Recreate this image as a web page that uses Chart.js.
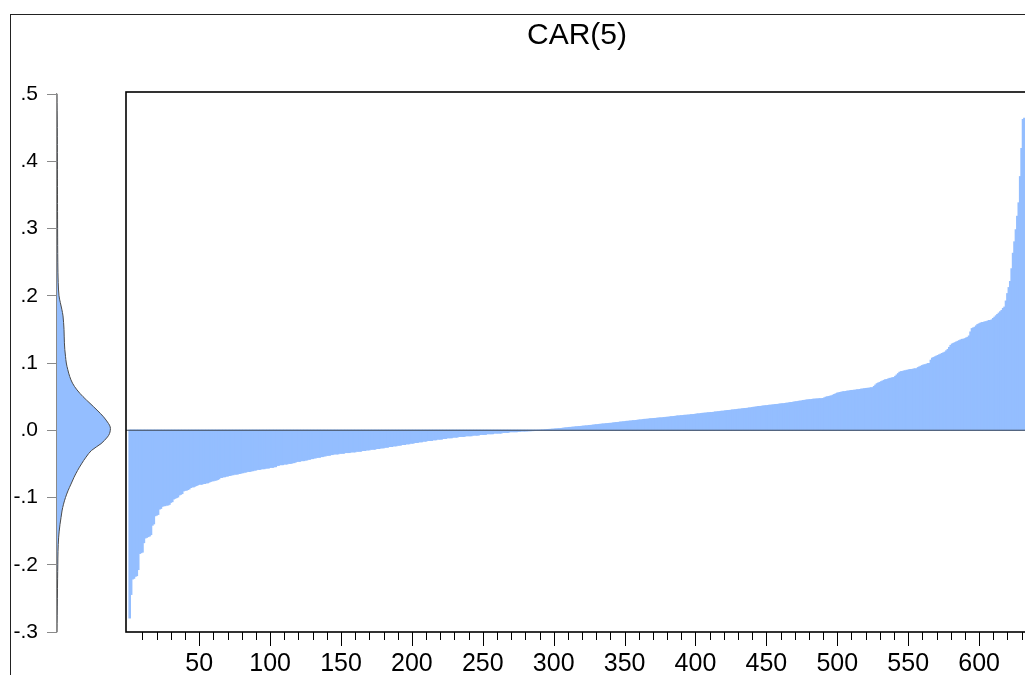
<!DOCTYPE html>
<html>
<head>
<meta charset="utf-8">
<title>CAR(5)</title>
<script src="https://cdn.jsdelivr.net/npm/chart.js@4.4.1/dist/chart.umd.min.js"></script>
<style>
    html, body { margin: 0; padding: 0; background: #fff; overflow: hidden; width: 1025px; height: 675px; }
    #frame { position: absolute; left: 10px; top: 14px; width: 1300px; height: 900px; border: 1px solid #222; box-sizing: border-box; }
    #densityChart { position: absolute; left: 0; top: 0; }
    #quantileChart { position: absolute; left: 100px; top: 0; }
</style>
</head>
<body>
<div id="frame"></div>
<canvas id="densityChart" width="130" height="675"></canvas>
<canvas id="quantileChart" width="953" height="675"></canvas>
<script>
const carValues = [
    -0.279, -0.244, -0.221, -0.220, -0.217, -0.216, -0.207, -0.183, -0.182, -0.181,
    -0.167, -0.160, -0.159, -0.158, -0.157, -0.155, -0.141, -0.139, -0.127, -0.126,
    -0.125, -0.117, -0.116, -0.113, -0.112, -0.112, -0.111, -0.111, -0.110, -0.107,
    -0.106, -0.102, -0.101, -0.100, -0.099, -0.096, -0.095, -0.094, -0.090, -0.089,
    -0.089, -0.088, -0.087, -0.085, -0.084, -0.084, -0.083, -0.082, -0.081, -0.080,
    -0.080, -0.080, -0.079, -0.079, -0.078, -0.078, -0.077, -0.076, -0.075, -0.075,
    -0.074, -0.074, -0.073, -0.072, -0.070, -0.070, -0.069, -0.069, -0.068, -0.068,
    -0.067, -0.067, -0.066, -0.066, -0.065, -0.065, -0.065, -0.064, -0.064, -0.063,
    -0.063, -0.062, -0.062, -0.061, -0.061, -0.061, -0.060, -0.060, -0.059, -0.059,
    -0.058, -0.058, -0.058, -0.057, -0.057, -0.057, -0.056, -0.056, -0.056, -0.055,
    -0.055, -0.055, -0.054, -0.054, -0.052, -0.052, -0.051, -0.051, -0.051, -0.050,
    -0.050, -0.050, -0.049, -0.049, -0.049, -0.048, -0.048, -0.047, -0.046, -0.046,
    -0.046, -0.045, -0.045, -0.045, -0.044, -0.044, -0.043, -0.043, -0.042, -0.042,
    -0.041, -0.041, -0.040, -0.040, -0.040, -0.039, -0.039, -0.038, -0.038, -0.037,
    -0.037, -0.037, -0.036, -0.036, -0.035, -0.035, -0.035, -0.035, -0.034, -0.034,
    -0.034, -0.034, -0.033, -0.033, -0.033, -0.033, -0.032, -0.032, -0.032, -0.032,
    -0.031, -0.031, -0.031, -0.031, -0.030, -0.030, -0.030, -0.029, -0.029, -0.029,
    -0.028, -0.028, -0.028, -0.028, -0.027, -0.027, -0.027, -0.026, -0.026, -0.026,
    -0.025, -0.025, -0.025, -0.024, -0.024, -0.024, -0.023, -0.023, -0.023, -0.022,
    -0.022, -0.022, -0.021, -0.021, -0.021, -0.020, -0.020, -0.020, -0.019, -0.019,
    -0.019, -0.018, -0.018, -0.018, -0.017, -0.017, -0.017, -0.016, -0.016, -0.016,
    -0.015, -0.015, -0.015, -0.015, -0.014, -0.014, -0.014, -0.013, -0.013, -0.013,
    -0.013, -0.012, -0.012, -0.012, -0.011, -0.011, -0.011, -0.011, -0.010, -0.010,
    -0.010, -0.010, -0.009, -0.009, -0.009, -0.009, -0.009, -0.008, -0.008, -0.008,
    -0.008, -0.008, -0.007, -0.007, -0.007, -0.007, -0.007, -0.006, -0.006, -0.006,
    -0.006, -0.006, -0.005, -0.005, -0.005, -0.005, -0.005, -0.004, -0.004, -0.004,
    -0.004, -0.004, -0.004, -0.003, -0.003, -0.003, -0.003, -0.003, -0.002, -0.002,
    -0.002, -0.002, -0.002, -0.002, -0.0015, -0.0015, -0.001, -0.001, -0.001, -0.001,
    -0.0008, -0.0007, -0.0006, -0.0005, -0.0004, -0.0003, -0.0002, -0.0001, 0.0000, 0.0001,
    0.0002, 0.0003, 0.0004, 0.0005, 0.0008, 0.0010, 0.0011, 0.0012, 0.0014, 0.0015,
    0.0017, 0.0019, 0.0020, 0.0022, 0.0024, 0.0026, 0.0030, 0.0032, 0.0035, 0.0036,
    0.0040, 0.0041, 0.0043, 0.0045, 0.0047, 0.0050, 0.0051, 0.0053, 0.0055, 0.0057,
    0.0060, 0.0061, 0.0063, 0.0065, 0.0068, 0.0070, 0.0072, 0.0075, 0.0078, 0.0080,
    0.0082, 0.0085, 0.0087, 0.0090, 0.0091, 0.0093, 0.0095, 0.0098, 0.0100, 0.0101,
    0.0103, 0.0106, 0.0110, 0.0111, 0.0113, 0.0116, 0.0120, 0.0121, 0.0123, 0.0126,
    0.0130, 0.0131, 0.0133, 0.0135, 0.0137, 0.0140, 0.0141, 0.0143, 0.0146, 0.0150,
    0.0151, 0.0153, 0.0156, 0.0160, 0.0161, 0.0162, 0.0165, 0.0168, 0.0170, 0.0171,
    0.0173, 0.0175, 0.0177, 0.0180, 0.0181, 0.0182, 0.0184, 0.0186, 0.0190, 0.0191,
    0.0193, 0.0196, 0.0200, 0.0201, 0.0203, 0.0206, 0.0210, 0.0211, 0.0212, 0.0215,
    0.0217, 0.0220, 0.0221, 0.0222, 0.0224, 0.0226, 0.0230, 0.0231, 0.0233, 0.0236,
    0.0240, 0.0241, 0.0243, 0.0246, 0.0250, 0.0251, 0.0253, 0.0255, 0.0258, 0.0260,
    0.0261, 0.0263, 0.0266, 0.0270, 0.0271, 0.0273, 0.0276, 0.0280, 0.0281, 0.0283,
    0.0286, 0.0290, 0.0291, 0.0293, 0.0296, 0.0300, 0.0301, 0.0303, 0.0306, 0.0310,
    0.0311, 0.0313, 0.0316, 0.0320, 0.0321, 0.0323, 0.0326, 0.0330, 0.0331, 0.0335,
    0.0340, 0.0341, 0.0345, 0.0350, 0.0351, 0.0353, 0.0356, 0.0360, 0.0361, 0.0363,
    0.0366, 0.0370, 0.0371, 0.0373, 0.0376, 0.0380, 0.0381, 0.0383, 0.0386, 0.0390,
    0.0391, 0.0393, 0.0396, 0.0400, 0.0401, 0.0405, 0.0410, 0.0411, 0.0415, 0.0420,
    0.0421, 0.0425, 0.0430, 0.0431, 0.0435, 0.0440, 0.0443, 0.0446, 0.0450, 0.0451,
    0.0453, 0.0456, 0.0460, 0.0461, 0.0462, 0.0464, 0.0466, 0.0467, 0.0468, 0.0470,
    0.0480, 0.0490, 0.0495, 0.0500, 0.0505, 0.0510, 0.0520, 0.0530, 0.0540, 0.0550,
    0.0555, 0.0560, 0.0565, 0.0570, 0.0571, 0.0575, 0.0580, 0.0581, 0.0585, 0.0590,
    0.0591, 0.0593, 0.0595, 0.0600, 0.0601, 0.0605, 0.0610, 0.0611, 0.0615, 0.0620,
    0.0621, 0.0623, 0.0626, 0.0630, 0.0631, 0.0650, 0.0670, 0.0690, 0.0700, 0.0710,
    0.0720, 0.0730, 0.0740, 0.0750, 0.0751, 0.0760, 0.0770, 0.0771, 0.0780, 0.0781,
    0.0800, 0.0820, 0.0840, 0.0860, 0.0870, 0.0871, 0.0880, 0.0881, 0.0890, 0.0891,
    0.0900, 0.0901, 0.0903, 0.0910, 0.0911, 0.0913, 0.0930, 0.0940, 0.0950, 0.0960,
    0.0970, 0.0971, 0.0980, 0.0990, 0.0991, 0.1040, 0.1070, 0.1080, 0.1090, 0.1100,
    0.1110, 0.1120, 0.1130, 0.1140, 0.1150, 0.1160, 0.1180, 0.1200, 0.1230, 0.1260,
    0.1280, 0.1290, 0.1300, 0.1310, 0.1320, 0.1330, 0.1340, 0.1350, 0.1351, 0.1360,
    0.1370, 0.1380, 0.1400, 0.1460, 0.1510, 0.1520, 0.1530, 0.1550, 0.1570, 0.1580,
    0.1590, 0.1600, 0.1601, 0.1610, 0.1611, 0.1620, 0.1630, 0.1631, 0.1640, 0.1660,
    0.1680, 0.1700, 0.1720, 0.1740, 0.1760, 0.1780, 0.1810, 0.1830, 0.1920, 0.2030,
    0.2120, 0.2210, 0.2400, 0.2630, 0.2800, 0.2980, 0.3180, 0.3380, 0.3770, 0.4190,
    0.4620, 0.4640
];

// kernel density on the left panel: CAR level and curve width (no units shown)
const densityLevels = [
    0.5, 0.45, 0.4, 0.35, 0.3, 0.25, 0.22, 0.2, 0.19, 0.18, 0.17, 0.16, 0.15, 0.14, 0.13,
    0.12, 0.11, 0.1, 0.09, 0.08, 0.07, 0.06, 0.05, 0.04, 0.03, 0.02, 0.01, 0.005, 0,
    -0.005, -0.01, -0.02, -0.03, -0.04, -0.05, -0.06, -0.07, -0.08, -0.09, -0.1, -0.11,
    -0.12, -0.13, -0.14, -0.15, -0.16, -0.18, -0.2, -0.22, -0.25, -0.3
];
const densityWidths = [
    0, 0.3, 0.4, 0.5, 0.6, 0.8, 1.2, 2.0, 3.3, 4.8, 6.0, 6.6, 7.0, 7.2, 7.4,
    7.8, 8.5, 9.3, 10.8, 12.7, 15.5, 20, 26, 33, 40, 46.5, 51.5, 53.2, 53.3,
    52.5, 50.5, 44, 34.5, 29, 24.5, 20.5, 17, 14, 11, 8.5, 6.5,
    5, 4, 3, 2.2, 1.6, 1.0, 0.8, 0.6, 0.4, 0
];

const xTickLabels = ['50', '100', '150', '200', '250', '300', '350', '400', '450', '500', '550', '600'];
const yTickLabels = ['.5', '.4', '.3', '.2', '.1', '.0', '-.1', '-.2', '-.3'];
const yTickValues = [0.5, 0.4, 0.3, 0.2, 0.1, 0, -0.1, -0.2, -0.3];

const fillBlue = 'rgb(148,190,255)';
const fontFamily = '"Liberation Sans", Arial, Helvetica, sans-serif';
const minorStep = 10;
const majorStep = 50;

Chart.defaults.font.family = fontFamily;
Chart.defaults.color = '#000';

// box, zero line and the small/large ticks under the quantile plot
const quantileFrame = {
    id: 'quantileFrame',
    afterDatasetsDraw(chart)
    {
        const {ctx, chartArea: a, scales: {x, y}} = chart;
        ctx.save();

        const y0 = y.getPixelForValue(0);
        ctx.strokeStyle = '#3e4756';
        ctx.lineWidth = 1.2;
        ctx.beginPath();
        ctx.moveTo(a.left, y0);
        ctx.lineTo(a.right, y0);
        ctx.stroke();

        ctx.strokeStyle = '#000';
        ctx.lineWidth = 1.6;
        ctx.strokeRect(a.left, a.top, a.right - a.left, a.bottom - a.top);

        ctx.lineWidth = 1;
        for (let v = minorStep; v < x.max; v += minorStep)
        {
            const px = Math.round(x.getPixelForValue(v)) + 0.5;
            const len = v % majorStep === 0 ? 14 : 8;
            ctx.beginPath();
            ctx.moveTo(px, a.bottom);
            ctx.lineTo(px, a.bottom + len);
            ctx.stroke();
        }
        ctx.restore();
    }
};

function renderQuantileChart()
{
    const ctx = document.getElementById('quantileChart').getContext('2d');
    new Chart(ctx, {
        type: 'bar',
        data: {
            datasets: [{
                label: 'CAR(5)',
                data: carValues.map((v, i) => ({x: i + 1, y: v})),
                backgroundColor: fillBlue,
                borderWidth: 0,
                barPercentage: 1,
                categoryPercentage: 1,
                inflateAmount: 0.6
            }]
        },
        options: {
            responsive: false,
            animation: false,
            layout: {padding: {left: 26, right: 25, top: 0, bottom: 0}},
            plugins: {
                legend: {display: false},
                tooltip: {enabled: false},
                title: {
                    display: true,
                    text: 'CAR(5)',
                    color: '#000',
                    font: {size: 30, weight: 'normal', family: fontFamily},
                    padding: {top: 18, bottom: 38}
                }
            },
            scales: {
                x: {
                    type: 'linear',
                    offset: false,
                    min: -1.61,
                    max: 634.5,
                    afterBuildTicks: (scale) =>
                    {
                        scale.ticks = xTickLabels.map(l => ({value: Number(l)}));
                    },
                    afterFit: (scale) =>
                    {
                        scale.height = 43;
                    },
                    grid: {display: false, drawTicks: false},
                    border: {display: false},
                    ticks: {
                        autoSkip: false,
                        maxRotation: 0,
                        padding: 17,
                        font: {size: 25},
                        callback: (value) => String(value)
                    }
                },
                y: {
                    display: false,
                    min: -0.3,
                    max: 0.503
                }
            }
        },
        plugins: [quantileFrame]
    });
}

function renderDensityChart()
{
    const ctx = document.getElementById('densityChart').getContext('2d');
    new Chart(ctx, {
        type: 'scatter',
        data: {
            datasets: [{
                label: 'Density',
                data: densityLevels.map((lv, i) => ({x: densityWidths[i], y: lv})),
                showLine: true,
                fill: 'shape',
                backgroundColor: fillBlue,
                borderColor: '#4a4a4a',
                borderWidth: 1,
                pointRadius: 0,
                tension: 0.35
            }]
        },
        options: {
            responsive: false,
            animation: false,
            layout: {padding: {left: 0, right: 13, top: 94, bottom: 43}},
            plugins: {
                legend: {display: false},
                tooltip: {enabled: false}
            },
            scales: {
                x: {display: false, min: 0, max: 60},
                y: {
                    min: -0.3,
                    max: 0.5,
                    afterBuildTicks: (scale) =>
                    {
                        scale.ticks = yTickValues.map(v => ({value: v}));
                    },
                    afterFit: (scale) =>
                    {
                        scale.width = 57;
                    },
                    grid: {drawOnChartArea: false, tickLength: 10, color: '#8a8a8a'},
                    border: {display: true, color: '#8a8a8a', width: 1.2},
                    ticks: {
                        padding: 9,
                        font: {size: 21},
                        callback: (value) =>
                        {
                            const idx = yTickValues.findIndex(v => Math.abs(v - value) < 1e-9);
                            return idx >= 0 ? yTickLabels[idx] : '';
                        }
                    }
                }
            }
        }
    });
}

renderDensityChart();
renderQuantileChart();
</script>
</body>
</html>
